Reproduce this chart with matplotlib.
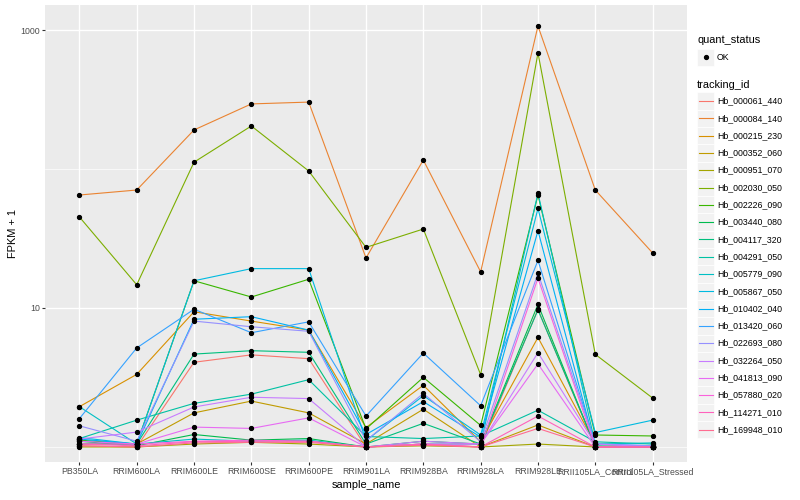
import matplotlib.pyplot as plt
from matplotlib.patches import Rectangle

plt.rcParams['font.family'] = ['Liberation Sans', 'DejaVu Sans']

samples = ['PB350LA', 'RRIM600LA', 'RRIM600LE', 'RRIM600SE', 'RRIM600PE', 'RRIM901LA',
           'RRIM928BA', 'RRIM928LA', 'RRIM928LE', 'RRII105LA_Control', 'RRII105LA_Stressed']

tracking_ids = ['Hb_000061_440', 'Hb_000084_140', 'Hb_000215_230', 'Hb_000352_060',
                'Hb_000951_070', 'Hb_002030_050', 'Hb_002226_090', 'Hb_003440_080',
                'Hb_004117_320', 'Hb_004291_050', 'Hb_005779_090', 'Hb_005867_050',
                'Hb_010402_040', 'Hb_013420_060', 'Hb_022693_080', 'Hb_032264_050',
                'Hb_041813_090', 'Hb_057880_020', 'Hb_114271_010', 'Hb_169948_010']

# ggplot hue palette, 20 levels
colors = ['#F8766D', '#EA8331', '#D89000', '#C09B00', '#A3A500', '#7CAE00', '#39B600',
          '#00BB4E', '#00BF7D', '#00C1A3', '#00BFC4', '#00BAE0', '#00B0F6', '#35A2FF',
          '#9590FF', '#C77CFF', '#E76BF3', '#FA62DB', '#FF62BC', '#FF6C91']

# FPKM + 1, one list per gene, in sample order
hb_000061_440 = [1.02, 1.0, 4.07, 4.6, 4.32, 1.0, 1.05, 1.0, 9.8, 1.0, 1.0]
hb_000084_140 = [65, 70.6, 191, 294, 303, 22.9, 116, 18.2, 1069, 70.6, 24.9]
hb_000215_230 = [1.95, 3.33, 9.4, 8.05, 6.93, 1.38, 2.78, 1.09, 6.14, 1.05, 1.0]
hb_000352_060 = [1.05, 1.05, 1.76, 2.14, 1.76, 1.05, 1.87, 1.0, 1.44, 1.0, 1.0]
hb_000951_070 = [1.0, 1.0, 1.05, 1.08, 1.05, 1.0, 1.02, 1.0, 1.05, 1.0, 1.0]
hb_002030_050 = [45.2, 14.7, 112, 204, 96.8, 27.3, 37, 3.31, 684, 4.64, 2.25]
hb_002226_090 = [1.12, 1.05, 15.7, 12.0, 16.1, 1.35, 3.17, 1.43, 65, 1.22, 1.2]
hb_003440_080 = [1.1, 1.02, 1.23, 1.12, 1.15, 1.0, 1.1, 1.05, 10.6, 1.0, 1.0]
hb_004117_320 = [1.05, 1.05, 4.66, 4.93, 4.8, 1.05, 1.48, 1.05, 9.7, 1.02, 1.0]
hb_004291_050 = [1.15, 1.56, 2.06, 2.4, 3.05, 1.19, 1.15, 1.2, 1.84, 1.09, 1.05]
hb_005779_090 = [1.95, 1.05, 1.14, 1.1, 1.12, 1.0, 1.05, 1.05, 67, 1.05, 1.07]
hb_005867_050 = [1.17, 1.05, 15.7, 19.2, 19.2, 1.11, 2.34, 1.22, 52, 1.27, 1.56]
hb_010402_040 = [1.14, 1.05, 8.3, 8.66, 6.93, 1.23, 2.12, 1.18, 36, 1.0, 1.0]
hb_013420_060 = [1.6, 5.16, 9.8, 6.64, 7.95, 1.67, 4.74, 1.98, 22, 1.05, 1.02]
hb_022693_080 = [1.42, 1.1, 8.05, 7.33, 6.8, 1.11, 2.43, 1.09, 17.8, 1.05, 1.02]
hb_032264_050 = [1.14, 1.28, 1.94, 2.28, 2.23, 1.0, 1.1, 1.05, 4.77, 1.05, 1.0]
hb_041813_090 = [1.1, 1.05, 1.39, 1.36, 1.62, 1.0, 1.05, 1.05, 3.96, 1.0, 1.0]
hb_057880_020 = [1.05, 1.05, 1.1, 1.12, 1.1, 1.0, 1.05, 1.0, 16.4, 1.0, 1.0]
hb_114271_010 = [1.05, 1.02, 1.09, 1.1, 1.1, 1.0, 1.05, 1.0, 1.67, 1.0, 1.0]
hb_169948_010 = [1.02, 1.0, 1.07, 1.08, 1.08, 1.0, 1.03, 1.0, 1.36, 1.0, 1.0]

series = [hb_000061_440, hb_000084_140, hb_000215_230, hb_000352_060, hb_000951_070,
          hb_002030_050, hb_002226_090, hb_003440_080, hb_004117_320, hb_004291_050,
          hb_005779_090, hb_005867_050, hb_010402_040, hb_013420_060, hb_022693_080,
          hb_032264_050, hb_041813_090, hb_057880_020, hb_114271_010, hb_169948_010]

W, H = 800, 500
fig = plt.figure(figsize=(8, 5), dpi=100)
ax = fig.add_axes([45 / W, 1 - 462 / H, (687 - 45) / W, (462 - 5) / H])
ax.set_facecolor('#EBEBEB')
for s in ax.spines.values():
    s.set_visible(False)

x = list(range(len(samples)))
for vals, c in zip(series, colors):
    ax.plot(x, vals, color=c, lw=0.8, zorder=2)
for vals in series:
    ax.plot(x, vals, 'o', color='black', ms=2.8, zorder=3)

ax.set_yscale('log')
ax.set_ylim(10 ** -0.108, 10 ** 3.18)
ax.set_xlim(-0.6, len(samples) - 0.4)
ax.set_yticks([10, 1000])
ax.set_yticklabels(['10', '1000'])
ax.set_yticks([1, 100], minor=True)
ax.set_xticks(x)
ax.set_xticklabels(samples)
ax.tick_params(which='major', length=2.0, width=0.8, color='#333333',
               labelcolor='#4D4D4D', labelsize=6.3, pad=1.6)
ax.tick_params(which='minor', length=0, labelleft=False)
ax.grid(True, which='major', color='white', lw=1.0, zorder=0)
ax.grid(True, which='minor', axis='y', color='white', lw=0.5, zorder=0)
ax.set_axisbelow(True)
ax.set_xlabel('sample_name', fontsize=7.9, labelpad=3)
ax.set_ylabel('FPKM + 1', fontsize=7.9, labelpad=2)

# legend drawn in pixel coordinates
lg = fig.add_axes([0, 0, 1, 1])
lg.set_xlim(0, W)
lg.set_ylim(H, 0)
lg.axis('off')

lg.text(697, 40, 'quant_status', fontsize=7.9, va='center', ha='left')
lg.add_patch(Rectangle((697, 48.5), 17.3, 17.3, facecolor='#F2F2F2', edgecolor='white', lw=0.5))
lg.plot([705.6], [57.2], 'o', color='black', ms=2.8)
lg.text(717, 57.2, 'OK', fontsize=6.3, va='center', ha='left')

lg.text(697, 85, 'tracking_id', fontsize=7.9, va='center', ha='left')
step = 17.3
for i, (tid, c) in enumerate(zip(tracking_ids, colors)):
    yc = 101 + i * step
    lg.add_patch(Rectangle((697, yc - step / 2), step, step, facecolor='#F2F2F2',
                           edgecolor='white', lw=0.5))
    lg.plot([699, 713], [yc, yc], color=c, lw=0.8)
    lg.text(717, yc, tid, fontsize=6.3, va='center', ha='left')

fig.savefig('out.png', dpi=100)
